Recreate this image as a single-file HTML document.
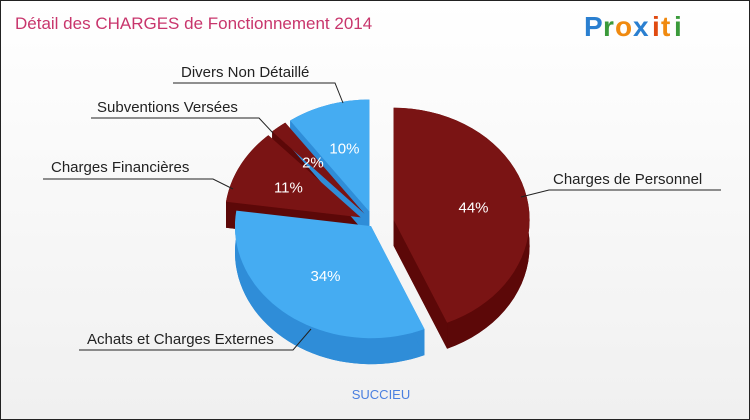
<!DOCTYPE html>
<html><head><meta charset="utf-8">
<style>
body{margin:0;background:#fff;}
#wrap{position:relative;width:748px;height:418px;border:1px solid #222;background:linear-gradient(#fff,#f0f0f0);overflow:hidden;font-family:"Liberation Sans",sans-serif;}
</style></head>
<body>
<div id="wrap">
<svg id="svg" width="748" height="418" xmlns="http://www.w3.org/2000/svg">
<text x="14" y="28" font-size="17" fill="#c8356c">Détail des CHARGES de Fonctionnement 2014</text>
<g font-size="28" font-weight="bold" font-family="'Liberation Sans',sans-serif">
<text x="583" y="35" fill="#2a7fd0">P</text><text x="602" y="35" fill="#3a9a3a">r</text><text x="614" y="35" fill="#f08a10">o</text><text x="632" y="35" fill="#2a7fd0">x</text><text x="651" y="35" fill="#e04a10">i</text><text x="660" y="35" fill="#f08a10">t</text><text x="673" y="35" fill="#3a9a3a">i</text>
</g>
<g id="pie"></g>
<g id="labels" font-size="15" fill="#222">
<text x="552" y="183">Charges de Personnel</text>
<path d="M720 189 L548 189 L520 196" stroke="#222" fill="none"/>
<text x="86" y="343">Achats et Charges Externes</text>
<path d="M78 349 L292 349 L310 328" stroke="#222" fill="none"/>
<text x="50" y="171">Charges Financières</text>
<path d="M42 178 L212 178 L232 188" stroke="#222" fill="none"/>
<text x="96" y="111">Subventions Versées</text>
<path d="M90 117 L258 117 L272 132" stroke="#222" fill="none"/>
<text x="180" y="76">Divers Non Détaillé</text>
<path d="M172 82 L334 82 L342 102" stroke="#222" fill="none"/>
</g>
<text x="380" y="398" font-size="13" fill="#4a7fe0" text-anchor="middle">SUCCIEU</text>
</svg>
</div>
<script>
const categories=["Charges de Personnel","Achats et Charges Externes","Charges Financières","Subventions Versées","Divers Non Détaillé"];
const values=[44,34,11,2,10];
const pctLabels=["44%","34%","11%","2%","10%"];
const explode=[20,5,15,15,15];
const colors=[["#7a1414","#5c0808"],["#45acf2","#2f8dd8"],["#7a1414","#5c0808"],["#7a1414","#5c0808"],["#45acf2","#2f8dd8"]];
const cx=373,cy=222,rx=136,ry=112,depth=26;
const ns="http://www.w3.org/2000/svg";
const pie=document.getElementById('pie');
const total=values.reduce((a,b)=>a+b,0);
function pt(a,ox,oy,dy){return [ox+rx*Math.sin(a),oy-ry*Math.cos(a)+dy];}
let slices=[],acc=0;
values.forEach((v,i)=>{const a0=acc/total*2*Math.PI;acc+=v;const a1=acc/total*2*Math.PI;const m=(a0+a1)/2;
slices.push({i,a0,a1,m,ox:cx+explode[i]*Math.sin(m),oy:cy-explode[i]*Math.cos(m)*0.8});});
function arc(s,dy){let d='';const n=40;for(let k=0;k<=n;k++){const a=s.a0+(s.a1-s.a0)*k/n;const p=pt(a,s.ox,s.oy,dy);d+=(k?'L':'M')+p[0].toFixed(1)+' '+p[1].toFixed(1);}return d;}
const order=[...slices].sort((a,b)=>-Math.cos(b.m)+Math.cos(a.m));
order.forEach(s=>{
const g=document.createElementNS(ns,'g');


const side=document.createElementNS(ns,'path');
side.setAttribute('d','M'+s.ox+' '+(s.oy+depth)+arc(s,depth).replace('M','L')+'Z');
side.setAttribute('fill',colors[s.i][1]);


g.appendChild(side);
let d='';const n=40;let top=[],bot=[];
for(let k=0;k<=n;k++){const a=s.a0+(s.a1-s.a0)*k/n;top.push(pt(a,s.ox,s.oy,0));bot.push(pt(a,s.ox,s.oy,depth));}
d='M'+top.map(p=>p.join(' ')).join('L')+'L'+bot.reverse().map(p=>p.join(' ')).join('L')+'Z';
const wall=document.createElementNS(ns,'path');
wall.setAttribute('d',d);wall.setAttribute('fill',colors[s.i][1]);


g.appendChild(wall);
[s.a0,s.a1].forEach(a=>{const p=pt(a,s.ox,s.oy,0);const w=document.createElementNS(ns,'path');
w.setAttribute('d',`M${s.ox} ${s.oy}L${p[0]} ${p[1]}L${p[0]} ${p[1]+depth}L${s.ox} ${s.oy+depth}Z`);
w.setAttribute('fill',colors[s.i][1]);


g.appendChild(w);});
pie.appendChild(g);s.g=g;});
order.forEach(s=>{
const topf=document.createElementNS(ns,'path');
topf.setAttribute('d','M'+s.ox+' '+s.oy+arc(s,0).replace('M','L')+'Z');
topf.setAttribute('fill',colors[s.i][0]);


pie.appendChild(topf);});
slices.forEach(s=>{
const r=s.i===1?0.55:0.6;
const t=document.createElementNS(ns,'text');
t.setAttribute('x',s.ox+rx*r*Math.sin(s.m));
t.setAttribute('y',s.oy-ry*r*Math.cos(s.m)+6);
t.setAttribute('fill','#fff');t.setAttribute('font-size','15');t.setAttribute('text-anchor','middle');
t.setAttribute('font-family','Liberation Sans, sans-serif');


t.textContent=pctLabels[s.i];pie.appendChild(t);});
</script>
</body></html>
